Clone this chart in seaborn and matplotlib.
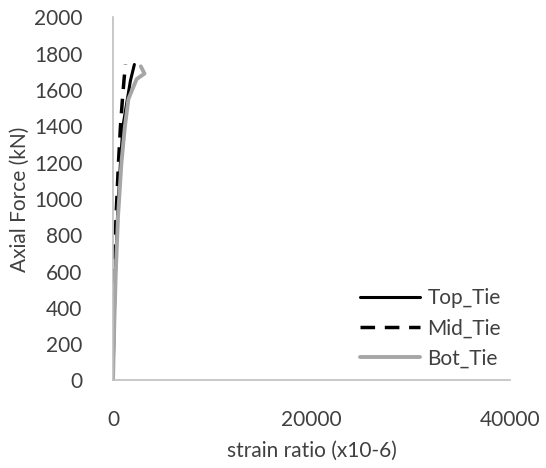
import pandas as pd
import matplotlib.pyplot as plt
import seaborn as sns

# strain (x10-6) vs axial force (kN) for the three ties
top_load = [0, 300, 600, 900, 1200, 1400, 1550, 1650, 1740]
top_strain = [0, 100, 250, 450, 750, 1000, 1450, 1750, 2150]

mid_load = [0, 300, 600, 900, 1200, 1400, 1550, 1650, 1740]
mid_strain = [0, 50, 150, 300, 550, 750, 950, 1100, 1250]

bot_load = [0, 300, 600, 900, 1200, 1400, 1550, 1660, 1690, 1730]
bot_strain = [0, 120, 280, 500, 850, 1200, 1550, 2380, 3170, 2800]

x_ticks = [0, 20000, 40000]
y_ticks = list(range(0, 2001, 200))

sns.set_style('white')
plt.rcParams['font.family'] = ['Lato', 'DejaVu Sans']

fig = plt.figure(figsize=(5.46, 4.68), dpi=100)
ax = fig.add_axes([0.207, 0.187, 0.727, 0.776])

top = pd.DataFrame({'strain': top_strain, 'load': top_load})
mid = pd.DataFrame({'strain': mid_strain, 'load': mid_load})
bot = pd.DataFrame({'strain': bot_strain, 'load': bot_load})

sns.lineplot(data=top, x='strain', y='load', sort=False, ax=ax,
             color='black', linewidth=2.2, label='Top_Tie')
sns.lineplot(data=mid, x='strain', y='load', sort=False, ax=ax,
             color='black', linewidth=2.5, linestyle=(0, (4.2, 2.8)), label='Mid_Tie')
sns.lineplot(data=bot, x='strain', y='load', sort=False, ax=ax,
             color='#A6A6A6', linewidth=2.8, label='Bot_Tie')

ax.set_xlim(0, 40000)
ax.set_ylim(0, 2000)
ax.set_xticks(x_ticks)
ax.set_yticks(y_ticks)
ax.tick_params(axis='y', labelsize=15, length=0, colors='#404040', pad=22)
ax.tick_params(axis='x', labelsize=15, length=0, colors='#404040', pad=21)
ax.set_xlabel('strain ratio (x10-6)', fontsize=15, color='#404040', labelpad=8)
ax.set_ylabel('Axial Force (kN)', fontsize=15, color='#404040', labelpad=3)

for s in ['top', 'right']:
    ax.spines[s].set_visible(False)
for s in ['left', 'bottom']:
    ax.spines[s].set_color('#BFBFBF')
    ax.spines[s].set_linewidth(1.2)

leg = ax.legend(loc='lower left', bbox_to_anchor=(0.574, -0.018), frameon=False,
                fontsize=15, handlelength=2.9, labelspacing=0.48, handletextpad=0.35)
for t in leg.get_texts():
    t.set_color('#404040')

fig.savefig('out.png', dpi=100)
